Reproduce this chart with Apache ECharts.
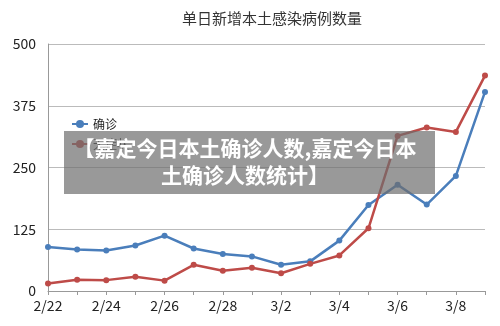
<!DOCTYPE html>
<html>
<head>
<meta charset="utf-8">
<script src="https://cdn.jsdelivr.net/npm/echarts@6/dist/echarts.min.js"></script>
<style>
  html, body { margin: 0; padding: 0; background: #fff; }
  #main { width: 500px; height: 326px; }
</style>
</head>
<body>
<div id="main"></div>
<script>
// 日期
var dates = ['2/22', '2/23', '2/24', '2/25', '2/26', '2/27', '2/28', '3/1',
             '3/2', '3/3', '3/4', '3/5', '3/6', '3/7', '3/8', '3/9'];
// 确诊
var confirmed = [89, 84, 82, 92, 112, 86, 75, 70, 53, 60, 102, 174, 215, 175, 233, 403];
// 无症状
var asymptomatic = [15, 23, 22, 29, 21, 53, 41, 47, 36, 55, 72, 127, 314, 331, 322, 436];
var yTicks = [0, 125, 250, 375, 500];

var myChart = echarts.init(document.getElementById('main'));
var font = '"Noto Sans CJK SC", "Noto Sans", sans-serif';

myChart.setOption({
    animation: false,
    title: {
        text: '单日新增本土感染病例数量',
        left: 267,
        textAlign: 'center',
        top: 6,
        textStyle: { fontFamily: font, fontSize: 15, fontWeight: 400, color: '#333' }
    },
    legend: {
        orient: 'vertical',
        left: 66,
        top: 113,
        itemGap: 8,
        itemWidth: 16,
        itemHeight: 10,
        textStyle: { fontFamily: font, fontSize: 12, color: '#222' },
        data: ['确诊', '无症状']
    },
    grid: { left: 48, right: 15, top: 44, bottom: 35 },
    xAxis: {
        type: 'category',
        boundaryGap: false,
        data: dates,
        axisLine: { lineStyle: { color: '#999' } },
        axisTick: { show: true, interval: 0, length: 4, lineStyle: { color: '#999' } },
        axisLabel: { interval: 1, color: '#222', fontSize: 14, fontFamily: font, margin: 8 }
    },
    yAxis: {
        type: 'value',
        min: yTicks[0],
        max: yTicks[yTicks.length - 1],
        interval: 125,
        axisLine: { show: true, lineStyle: { color: '#999' } },
        axisTick: { show: false },
        axisLabel: { color: '#222', fontSize: 14, fontFamily: font, margin: 12 },
        splitLine: { lineStyle: { color: '#bbb' } }
    },
    series: [
        {
            name: '确诊',
            type: 'line',
            data: confirmed,
            symbol: 'circle',
            symbolSize: 6,
            itemStyle: { color: '#4a7ebb' },
            lineStyle: { width: 2.5, color: '#4a7ebb' }
        },
        {
            name: '无症状',
            type: 'line',
            data: asymptomatic,
            symbol: 'circle',
            symbolSize: 6,
            itemStyle: { color: '#be4b48' },
            lineStyle: { width: 2.5, color: '#be4b48' }
        }
    ],
    graphic: [
        {
            type: 'rect',
            left: 64,
            top: 131,
            z: 100,
            shape: { width: 371, height: 63 },
            style: { fill: 'rgba(110,110,110,0.7)' }
        },
        {
            type: 'text',
            x: 245,
            y: 135,
            z: 101,
            style: {
                text: '【嘉定今日本土确诊人数,嘉定今日本\n土确诊人数统计】',
                fill: '#fff',
                font: 'bold 21px "Noto Sans CJK SC", sans-serif',
                align: 'center',
                verticalAlign: 'top',
                lineHeight: 27
            }
        }
    ]
});
</script>
</body>
</html>
